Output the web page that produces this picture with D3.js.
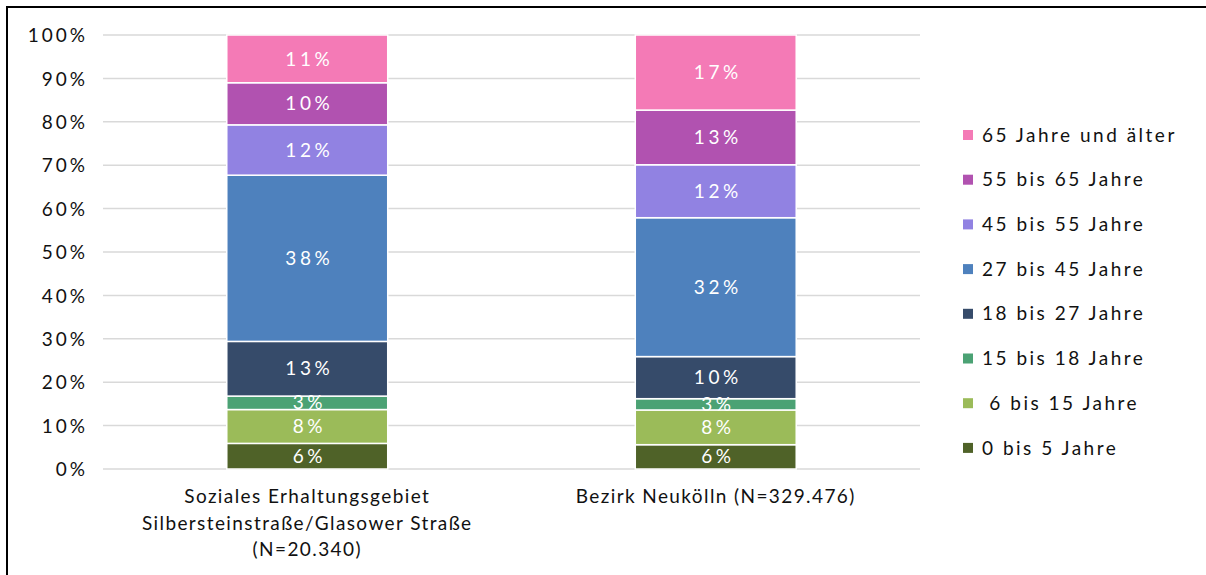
<!DOCTYPE html>
<html>
<head>
<meta charset="utf-8">
<script src="https://cdn.jsdelivr.net/npm/d3@7"></script>
<style>
  body { margin: 0; background: #fff; }
  svg text { font-family: "Lato", "Open Sans", sans-serif; }
</style>
</head>
<body>
<div id="chart"></div>
<script>
// Kategorien (x-Achse)
const categories = [
  ["Soziales Erhaltungsgebiet", "Silbersteinstraße/Glasower Straße", "(N=20.340)"],
  ["Bezirk Neukölln (N=329.476)"]
];
// Altersgruppen von unten nach oben
const groups = ["0 bis 5 Jahre", " 6 bis 15 Jahre", "15 bis 18 Jahre", "18 bis 27 Jahre",
                "27 bis 45 Jahre", "45 bis 55 Jahre", "55 bis 65 Jahre", "65 Jahre und älter"];
const colors = ["#4f6228", "#9bbb59", "#4ba274", "#364b6a", "#4e81bd", "#9182e2", "#b152b0", "#f47ab6"];
// Anteile in %
const erhaltungsgebiet = [5.9, 7.8, 3.1, 12.6, 38.3, 11.6, 9.7, 11.0];
const neukoelln = [5.6, 8.0, 2.6, 9.7, 32.0, 12.2, 12.6, 17.3];
const yTicks = [0, 10, 20, 30, 40, 50, 60, 70, 80, 90, 100];

const W = 1206, H = 575;
const plot = {left: 103, right: 920, top: 35, bottom: 469};

const svg = d3.select("#chart").append("svg")
    .attr("width", W)
    .attr("height", H);

// Rahmen (nur oben und links sichtbar)
svg.append("path")
    .attr("d", `M7,${H} L7,7 L${W},7`)
    .attr("fill", "none")
    .attr("stroke", "#000")
    .attr("stroke-width", 2);

const x = d3.scaleBand()
    .domain([0, 1])
    .range([plot.left, plot.right])
    .paddingInner(0.606)
    .paddingOuter(0.303);

const y = d3.scaleLinear()
    .domain([0, 100])
    .range([plot.bottom, plot.top]);

// Gitterlinien
svg.append("g")
    .selectAll("line").data(yTicks).enter().append("line")
    .attr("x1", plot.left).attr("x2", plot.right)
    .attr("y1", d => y(d)).attr("y2", d => y(d))
    .attr("stroke", "#d9d9d9")
    .attr("stroke-width", 1.5);

// y-Achse
const yAxis = svg.append("g")
    .attr("transform", `translate(${plot.left - 18},0)`)
    .call(d3.axisLeft(y).tickValues(yTicks).tickSize(0).tickFormat(d => d + "%"));
yAxis.select(".domain").remove();
yAxis.selectAll("text")
    .style("font-size", "19px")
    .style("letter-spacing", "3px")
    .attr("fill", "#111")
    .attr("x", 3)
    .attr("dy", "0.35em");

// Balken
const series = [erhaltungsgebiet, neukoelln];
series.forEach(function(values, i) {
    const stack = [];
    let acc = 0;
    values.forEach(function(v, k) {
        stack.push({k: k, y0: acc, y1: acc + v, v: v});
        acc += v;
    });
    const g = svg.append("g");
    g.selectAll("rect").data(stack).enter().append("rect")
        .attr("x", x(i))
        .attr("width", x.bandwidth())
        .attr("y", d => y(d.y1))
        .attr("height", d => y(d.y0) - y(d.y1))
        .attr("fill", d => colors[d.k])
        .attr("stroke", "#fff")
        .attr("stroke-width", 1.5);
    g.selectAll("text").data(stack).enter().append("text")
        .attr("x", x(i) + x.bandwidth() / 2 + 2)
        .attr("y", d => y((d.y0 + d.y1) / 2))
        .attr("dy", "0.35em")
        .attr("text-anchor", "middle")
        .attr("fill", "#fff")
        .style("font-size", "19px")
        .style("letter-spacing", "3.5px")
        .text(d => Math.round(d.v) + "%");
});

// Kategorienbeschriftung
categories.forEach(function(lines, i) {
    const t = svg.append("text")
        .attr("text-anchor", "middle")
        .attr("fill", "#111")
        .style("font-size", "19px")
        .style("letter-spacing", "1.4px");
    lines.forEach(function(line, j) {
        t.append("tspan")
            .attr("x", x(i) + x.bandwidth() / 2)
            .attr("y", 503 + j * 26.5)
            .text(line);
    });
});

// Legende (oben: älteste Gruppe)
const legend = svg.append("g")
    .selectAll("g").data(groups.slice().reverse()).enter().append("g")
    .attr("transform", (d, i) => `translate(963,${135 + i * 44.7})`);
legend.append("rect")
    .attr("x", 0).attr("y", -5)
    .attr("width", 10).attr("height", 10)
    .attr("fill", (d, i) => colors[groups.length - 1 - i]);
legend.append("text")
    .attr("x", 19)
    .attr("dy", "0.35em")
    .attr("fill", "#111")
    .style("font-size", "19px")
    .style("letter-spacing", "2.5px")
    .style("white-space", "pre")
    .text(d => d);
</script>
</body>
</html>
